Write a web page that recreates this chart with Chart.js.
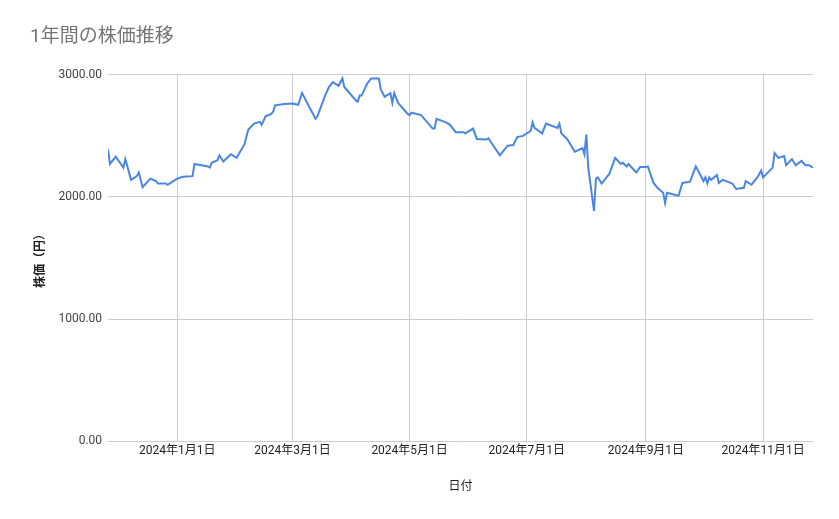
<!DOCTYPE html>
<html><head><meta charset="utf-8">
<script src="https://cdn.jsdelivr.net/npm/chart.js@4"></script>
<style>html,body{margin:0;background:#fff}#wrap{width:839px;height:519px}</style>
</head><body><div id="wrap"><canvas id="c"></canvas></div>
<script>
// 日数（2024年1月1日からの経過日数）と株価
const days = [-36,-35,-32,-28,-27,-24,-21,-20,-18,-14,-11,-10,-6,-5,0,3,8,9,16,17,18,21,22,24,28,31,32,35,37,40,43,44,46,49,50,51,56,60,63,65,72,73,77,79,81,84,86,87,93,94,95,96,99,101,105,106,108,111,112,113,115,120,121,122,127,133,134,135,140,142,145,149,150,154,156,161,162,168,172,175,177,180,184,185,186,190,192,198,199,200,203,207,211,212,213,214,217,218,219,221,225,228,231,232,234,235,239,241,244,245,248,250,253,254,255,261,263,267,270,274,275,276,277,278,281,282,284,289,291,295,296,299,302,304,305,310,311,313,316,317,320,322,325,327,329,331];
const prices = [2390,2270,2330,2240,2310,2140,2170,2200,2080,2150,2130,2110,2110,2100,2150,2165,2170,2270,2250,2240,2280,2300,2340,2290,2350,2320,2350,2430,2550,2600,2615,2590,2660,2680,2700,2750,2760,2765,2755,2850,2640,2660,2830,2900,2940,2910,2970,2900,2790,2780,2830,2830,2930,2970,2970,2880,2820,2850,2770,2850,2770,2680,2670,2690,2670,2560,2560,2640,2610,2590,2530,2530,2520,2560,2475,2470,2480,2340,2420,2425,2490,2500,2540,2610,2565,2520,2600,2565,2600,2520,2475,2370,2400,2350,2510,2240,1885,2150,2160,2110,2190,2320,2270,2280,2250,2270,2200,2245,2245,2250,2115,2075,2035,1950,2035,2010,2115,2125,2250,2130,2160,2110,2160,2140,2180,2115,2140,2110,2065,2075,2130,2100,2160,2215,2160,2240,2360,2320,2335,2260,2310,2260,2295,2260,2260,2240];
const tickDays = [0,60,121,182,244,305];
const tickLabels = ['2024年1月1日','2024年3月1日','2024年5月1日','2024年7月1日','2024年9月1日','2024年11月1日'];
const yTicks = [0,1000,2000,3000];

const FONT = 'Roboto, "Noto Sans CJK JP", sans-serif';
new Chart(document.getElementById('c'), {
  type: 'line',
  data: { datasets: [{
    data: days.map((d,i)=>({x:d, y:prices[i]})),
    borderColor: '#4a86e0', borderWidth: 2, pointRadius: 0, tension: 0
  }]},
  options: {
    responsive: true, maintainAspectRatio: false, animation: false,
    layout: { padding: { left: 30, right: 26, top: 0, bottom: 21 } },
    plugins: {
      legend: { display: false },
      title: { display: true, text: '1年間の株価推移', align: 'start', color: '#757575',
        font: { family: FONT, size: 19, weight: 'normal' }, padding: { top: 26, bottom: 26 } }
    },
    scales: {
      x: { type: 'linear', min: -36, max: 331,
        afterBuildTicks: ax => { ax.ticks = tickDays.map(v=>({value:v})); },
        ticks: { callback: (v,i)=>tickLabels[i], color: '#222', font: { family: FONT, size: 12 }, maxRotation: 0 },
        grid: { color: '#cccccc', drawTicks: false }, border: { display: false },
        title: { display: true, text: '日付', color: '#222', font: { family: FONT, size: 12 }, padding: { top: 18 } }
      },
      y: { min: 0, max: 3000,
        afterBuildTicks: ax => { ax.ticks = yTicks.map(v=>({value:v})); },
        ticks: { callback: v=>v.toFixed(2), color: '#444', font: { family: FONT, size: 12 }, padding: 6 },
        grid: { color: '#cccccc', drawTicks: false }, border: { display: false },
        title: { display: true, text: '株価（円）', color: '#222', font: { family: FONT, size: 12, weight: 'bold' } }
      }
    }
  }
});
</script></body></html>
